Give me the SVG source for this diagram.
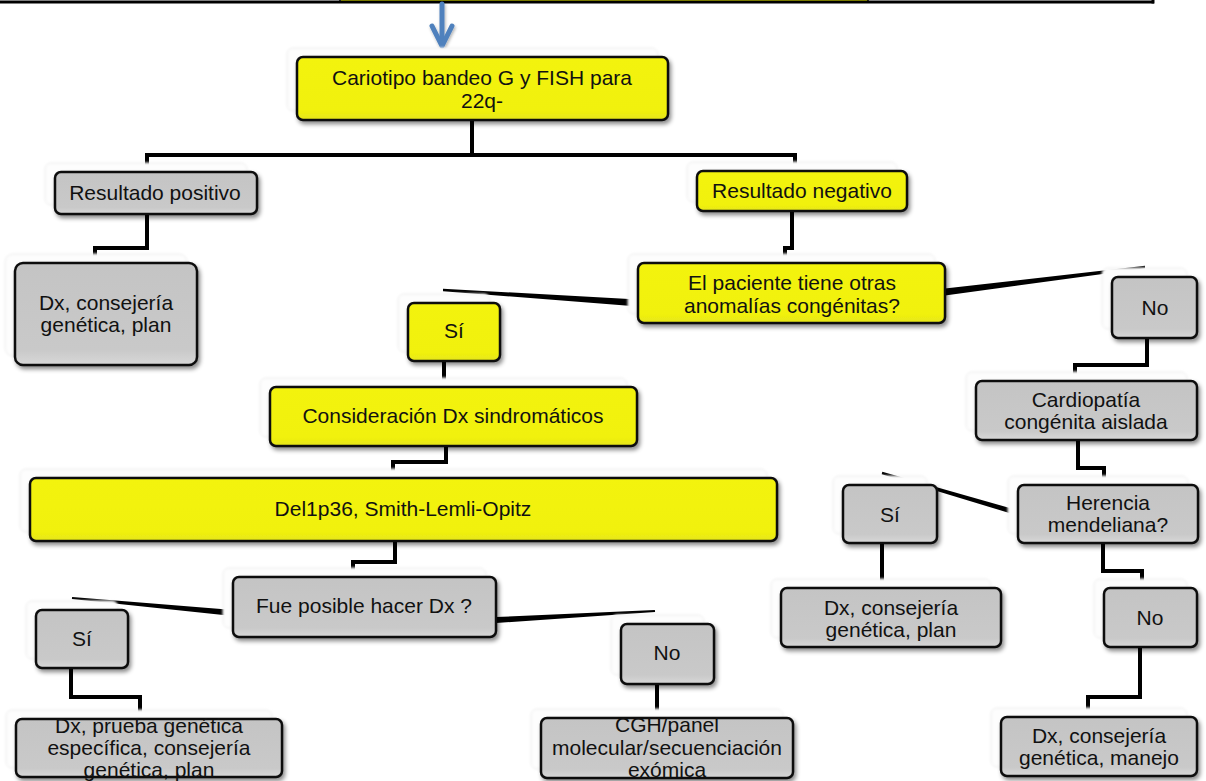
<svg xmlns="http://www.w3.org/2000/svg" width="1206" height="781" viewBox="0 0 1206 781">
  <defs>
    <linearGradient id="grayFill" x1="0" y1="0" x2="0" y2="1">
      <stop offset="0" stop-color="#c4c4c4"/>
      <stop offset="0.85" stop-color="#c9c9c9"/>
      <stop offset="1" stop-color="#d8d8d8"/>
    </linearGradient>
    <linearGradient id="yellowFill" x1="0" y1="0" x2="0" y2="1">
      <stop offset="0" stop-color="#f3f30a"/>
      <stop offset="0.85" stop-color="#f1f10c"/>
      <stop offset="1" stop-color="#e6e61a"/>
    </linearGradient>
    <filter id="shadow" x="-10%" y="-20%" width="125%" height="150%">
      <feDropShadow dx="2" dy="3" stdDeviation="2" flood-color="#000" flood-opacity="0.45"/>
    </filter>
    <filter id="soft" x="-10%" y="-20%" width="120%" height="140%">
      <feGaussianBlur stdDeviation="1.2"/>
    </filter>
    <filter id="arrowShadow" x="-50%" y="-20%" width="200%" height="150%">
      <feDropShadow dx="1" dy="2" stdDeviation="1.5" flood-color="#000" flood-opacity="0.3"/>
    </filter>
  </defs>
  <style>
    .glow { fill: #fdfdfd; stroke: #ececec; stroke-width: 1; filter: url(#soft); }
    .box { stroke: #111; stroke-width: 2.5; filter: url(#shadow); }
    .gray { fill: url(#grayFill); }
    .yellow { fill: url(#yellowFill); }
    text { font-family: "Liberation Sans", Arial, sans-serif; font-size: 21px; fill: #111; text-anchor: middle; }
    .elbow { fill: none; stroke: #000; stroke-width: 4; stroke-linejoin: miter; }
    .wedge { fill: #000; }
  </style>

  <!-- header table row -->
  <g id="header">
    <rect x="341" y="0" width="527" height="1.5" fill="#f2f200"/>
    <line x1="0" y1="2" x2="1154" y2="2" stroke="#000" stroke-width="3"/>
    <line x1="340" y1="0" x2="340" y2="3" stroke="#000" stroke-width="1.5"/>
    <line x1="868" y1="0" x2="868" y2="3" stroke="#000" stroke-width="1.5"/>
    <line x1="1153" y1="0" x2="1153" y2="3.5" stroke="#000" stroke-width="3"/>
  </g>

  <!-- entry arrow -->
  <g id="entry-arrow" filter="url(#arrowShadow)" stroke="#4f81bd" stroke-width="5" fill="none" stroke-linecap="round" stroke-linejoin="round">
    <line x1="442" y1="4" x2="442" y2="45"/>
    <polyline points="432,26 442,46 452,26"/>
  </g>

  <!-- connectors -->
  <g id="connectors">
    <path class="elbow" d="M472,120 V155 M147,171 V155 H795 V170"/>
    <path class="elbow" d="M147,214 V248 H95 V263"/>
    <path class="elbow" d="M792,211 V248 H785 V263"/>
    <polygon class="wedge" points="638,299.5 443,288.8 443,291.2 638,306.5"/>
    <polygon class="wedge" points="945,288.5 1145,265.8 1145,268.2 945,295.5"/>
    <path class="elbow" d="M1147,338 V365 H1075 V381"/>
    <path class="elbow" d="M444,361 V387"/>
    <path class="elbow" d="M446,446 V462 H393 V478"/>
    <path class="elbow" d="M1078,440 V468 H1104 V485"/>
    <polygon class="wedge" points="1018.5,510.5 882.3,471.8 881.7,474.2 1017.5,515.5"/>
    <path class="elbow" d="M1103,543 V571 H1142 V588"/>
    <path class="elbow" d="M882,543 V588"/>
    <path class="elbow" d="M395,541 V562 H353 V577"/>
    <polygon class="wedge" points="233.3,610 72.1,597 71.9,599 232.7,616"/>
    <polygon class="wedge" points="496.2,623 655.1,612 654.9,610 495.8,617"/>
    <path class="elbow" d="M71,668 V697 H140 V719"/>
    <path class="elbow" d="M657,684 V718"/>
    <path class="elbow" d="M1140,647 V697 H1088 V717"/>
  </g>

  <!-- nodes -->
  <g id="cariotipo">
    <rect class="glow" x="287" y="48" width="371" height="63" rx="6"/>
    <rect class="box yellow" x="297" y="57" width="371" height="63" rx="6"/>
    <text x="482" y="85">Cariotipo bandeo G y FISH para</text>
    <text x="482" y="108">22q-</text>
  </g>

  <g id="resultado-positivo">
    <rect class="glow" x="45" y="163" width="202" height="42" rx="6"/>
    <rect class="box gray" x="55" y="172" width="202" height="42" rx="6"/>
    <text x="155" y="200">Resultado positivo</text>
  </g>

  <g id="resultado-negativo">
    <rect class="glow" x="687" y="162" width="210" height="40" rx="6"/>
    <rect class="box yellow" x="697" y="171" width="210" height="40" rx="6"/>
    <text x="802" y="198">Resultado negativo</text>
  </g>

  <g id="dx-positivo">
    <rect class="glow" x="5" y="254" width="182" height="102" rx="8"/>
    <rect class="box gray" x="15" y="263" width="182" height="102" rx="8"/>
    <text x="106" y="310">Dx, consejería</text>
    <text x="106" y="332">genética, plan</text>
  </g>

  <g id="otras-anomalias">
    <rect class="glow" x="628" y="254" width="307" height="60" rx="6"/>
    <rect class="box yellow" x="638" y="263" width="307" height="60" rx="6"/>
    <text x="792" y="290">El paciente tiene otras</text>
    <text x="792" y="313">anomalías congénitas?</text>
  </g>

  <g id="si-anomalias">
    <rect class="glow" x="398" y="294" width="92" height="58" rx="6"/>
    <rect class="box yellow" x="408" y="303" width="92" height="58" rx="6"/>
    <text x="454" y="338">Sí</text>
  </g>

  <g id="no-anomalias">
    <rect class="glow" x="1102" y="268" width="85" height="61" rx="6"/>
    <rect class="box gray" x="1112" y="277" width="85" height="61" rx="6"/>
    <text x="1155" y="315">No</text>
  </g>

  <g id="consideracion">
    <rect class="glow" x="260" y="378" width="367" height="59" rx="6"/>
    <rect class="box yellow" x="270" y="387" width="367" height="59" rx="6"/>
    <text x="453" y="423">Consideración Dx sindromáticos</text>
  </g>

  <g id="del1p36">
    <rect class="glow" x="20" y="469" width="747" height="63" rx="6"/>
    <rect class="box yellow" x="30" y="478" width="747" height="63" rx="6"/>
    <text x="403" y="516">Del1p36, Smith-Lemli-Opitz</text>
  </g>

  <g id="fue-posible">
    <rect class="glow" x="223" y="568" width="263" height="60" rx="6"/>
    <rect class="box gray" x="233" y="577" width="263" height="60" rx="6"/>
    <text x="364" y="613">Fue posible hacer Dx ?</text>
  </g>

  <g id="si-dx">
    <rect class="glow" x="26" y="601" width="92" height="58" rx="6"/>
    <rect class="box gray" x="36" y="610" width="92" height="58" rx="6"/>
    <text x="82" y="646">Sí</text>
  </g>

  <g id="dx-prueba">
    <rect class="glow" x="6" y="710" width="266" height="58" rx="6"/>
    <rect class="box gray" x="16" y="719" width="266" height="58" rx="6"/>
    <text x="149" y="733">Dx, prueba genética</text>
    <text x="149" y="755">específica, consejería</text>
    <text x="149" y="777">genética, plan</text>
  </g>

  <g id="no-dx">
    <rect class="glow" x="611" y="615" width="93" height="60" rx="6"/>
    <rect class="box gray" x="621" y="624" width="93" height="60" rx="6"/>
    <text x="667" y="660">No</text>
  </g>

  <g id="cgh">
    <rect class="glow" x="531" y="709" width="252" height="60" rx="6"/>
    <rect class="box gray" x="541" y="718" width="252" height="60" rx="6"/>
    <text x="667" y="732">CGH/panel</text>
    <text x="667" y="755">molecular/secuenciación</text>
    <text x="667" y="777">exómica</text>
  </g>

  <g id="cardiopatia">
    <rect class="glow" x="966" y="372" width="221" height="59" rx="6"/>
    <rect class="box gray" x="976" y="381" width="221" height="59" rx="6"/>
    <text x="1086" y="407">Cardiopatía</text>
    <text x="1086" y="429">congénita aislada</text>
  </g>

  <g id="herencia">
    <rect class="glow" x="1008" y="476" width="180" height="58" rx="6"/>
    <rect class="box gray" x="1018" y="485" width="180" height="58" rx="6"/>
    <text x="1108" y="510">Herencia</text>
    <text x="1108" y="532">mendeliana?</text>
  </g>

  <g id="si-herencia">
    <rect class="glow" x="833" y="476" width="94" height="58" rx="6"/>
    <rect class="box gray" x="843" y="485" width="94" height="58" rx="6"/>
    <text x="890" y="522">Sí</text>
  </g>

  <g id="dx-herencia">
    <rect class="glow" x="771" y="579" width="220" height="59" rx="6"/>
    <rect class="box gray" x="781" y="588" width="220" height="59" rx="6"/>
    <text x="891" y="615">Dx, consejería</text>
    <text x="891" y="637">genética, plan</text>
  </g>

  <g id="no-herencia">
    <rect class="glow" x="1094" y="579" width="93" height="59" rx="6"/>
    <rect class="box gray" x="1104" y="588" width="93" height="59" rx="6"/>
    <text x="1150" y="625">No</text>
  </g>

  <g id="dx-manejo">
    <rect class="glow" x="991" y="708" width="196" height="59" rx="6"/>
    <rect class="box gray" x="1001" y="717" width="196" height="59" rx="6"/>
    <text x="1099" y="743">Dx, consejería</text>
    <text x="1099" y="765">genética, manejo</text>
  </g>
</svg>
